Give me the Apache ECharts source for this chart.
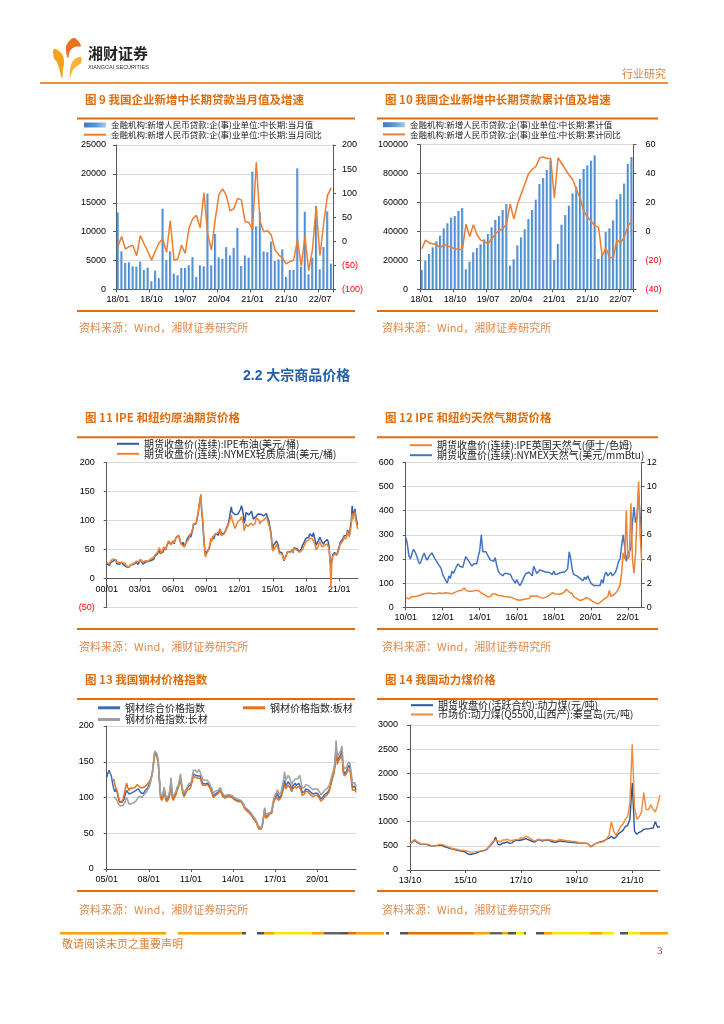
<!DOCTYPE html>
<html><head><meta charset="utf-8">
<script src="https://cdn.jsdelivr.net/npm/echarts/dist/echarts.min.js"></script>
<style>html,body{margin:0;padding:0;background:#fff}#c{width:724px;height:1024px}</style>
</head><body><div id="c"></div>
<script>
function months(y0,m0,y1,m1){const out=[];let y=y0,m=m0;while(y<y1||(y===y1&&m<=m1)){out.push(String(y%100).padStart(2,'0')+'/'+String(m).padStart(2,'0'));m++;if(m>12){m=1;y++;}}return out;}

// ---------- categories ----------
const cat9 = months(2018,1,2022,10);
const cat11 = months(2000,1,2022,9);
const cat12 = months(2010,1,2022,10);
const cat13 = months(2005,1,2022,10);
const cat14 = months(2013,10,2022,10);

// ---------- chart 9: monthly new mid/long-term corporate loans ----------
const loanMonthly = [13350,6590,4580,4700,4010,3950,4810,3380,3780,1430,3260,1950,
 13980,5100,6590,2750,2460,3720,3720,4180,5610,2180,4180,4010,
 16610,4180,9620,5560,5330,7330,5900,7220,10650,4070,5900,5500,
 20390,10940,13350,6590,6470,8300,4930,5210,6930,2180,3380,3380,
 20960,3900,13460,2630,5500,14430,3490,7330,13520,4470];
const loanMonthlyYoY = [-11,10,-16,-11,-8,-30,12,-5,-21,-39,-20,-3,
 5,-23,43,-39,-37,-8,-25,27,47,54,28,101,
 15,-18,44,97,109,95,63,68,89,86,41,39,
 25,164,40,20,22,13,-18,-28,-35,-47,-42,-39,
 4,-52,10,-61,-18,73,-30,37,95,111];

// ---------- chart 10: cumulative ----------
const loanCum = [13360,19820,24420,29030,33180,37100,42170,45620,49540,50690,54150,56220,
 13820,19120,25580,28570,31110,34560,38250,42860,47930,50690,54840,58990,
 16360,20740,30410,35940,41470,48620,54840,61980,72810,76960,82490,88940,
 20280,31340,44700,51380,57830,66360,70970,76270,83180,85710,88940,92630,
 20970,24190,39630,42170,47700,62210,65900,73040,86640,91470];
const loanCumYoY = [-12,-6,-8,-8.5,-9,-11.5,-9,-10,-11,-12,-12.5,-12.5,
 5,-3.5,4.6,-2.3,-6,-7,-8.5,-5,-1.6,0.7,1.8,5.3,
 19,8.5,19,26,33,40,43,45,51,51.5,50.5,50.5,
 23,51,47,43,39,36,29,23,14,10,7,4,
 3,-17,-11.5,-18,-18,-6,-7.6,-4,4,7];

// ---------- chart 11: crude oil ----------
const brent = [25.5,27.8,27.5,22.7,27.6,29.8,28.5,30.0,33.0,30.7,32.6,25.5,
 25.6,27.5,24.5,25.6,28.1,27.8,24.6,25.6,25.6,20.5,18.9,18.6,
 19.5,20.2,23.7,26.0,25.7,24.1,25.7,26.6,28.4,27.5,24.3,28.0,
 31.2,32.7,30.4,25.0,25.8,27.6,28.4,29.8,27.1,29.6,28.8,29.8,
 31.2,30.9,33.8,33.4,37.9,35.2,38.2,42.7,43.2,49.8,43.1,39.7,
 44.3,45.6,53.1,51.9,49.0,55.6,57.9,63.8,63.7,59.4,56.2,57.6,
 63.9,60.2,62.3,70.4,70.8,70.6,74.4,73.0,62.8,58.8,59.1,62.3,
 54.6,58.0,62.1,67.5,67.9,70.6,75.8,70.9,77.1,82.3,92.5,91.4,
 91.9,94.6,103.3,110.4,124.6,133.5,144.0,113.9,99.1,72.8,53.2,40.0,
 44.9,43.2,47.7,51.0,58.1,69.1,65.1,72.8,67.9,73.1,77.6,75.2,
 76.9,74.7,79.9,85.7,77.0,75.7,75.5,77.1,78.2,83.5,86.2,91.8,
 96.5,103.7,114.6,123.3,114.5,113.9,116.7,110.2,112.8,109.6,110.5,107.9,
 110.7,119.3,125.5,119.8,110.3,95.2,102.6,113.4,113.0,111.5,109.5,109.2,
 112.3,116.1,108.5,102.3,102.6,103.3,107.4,110.3,111.2,109.5,107.9,110.8,
 107.4,108.8,107.7,108.1,109.2,111.9,106.9,101.9,97.3,87.3,79.4,62.3,
 47.8,58.1,55.9,59.5,64.6,61.7,56.5,46.5,47.6,48.4,44.3,38.0,
 30.7,32.2,38.2,41.6,46.7,48.3,44.9,45.8,46.6,49.5,44.5,53.3,
 54.6,55.0,51.6,52.3,50.3,46.4,48.5,51.7,56.2,57.5,62.7,64.4,
 69.1,65.7,66.7,71.6,77.0,74.4,74.3,72.5,78.9,81.0,64.8,57.4,
 59.4,64.0,66.1,71.2,71.1,64.2,63.9,59.0,62.8,59.7,63.2,67.3,
 63.7,55.5,30.0,22.0,32.1,40.8,43.2,45.0,41.9,40.0,43.9,50.2,
 54.8,62.3,65.4,64.8,68.5,73.2,75.2,70.8,74.5,83.5,81.1,74.3,
 88.0,97.0,125.0,105.0,113.0,120.0,108.0,98.0,92.0];
const wti = [27.2,29.4,29.9,25.7,28.8,31.8,29.7,31.3,33.9,33.1,34.4,28.5,
 29.6,29.6,27.2,27.4,28.6,27.6,26.4,27.4,26.2,22.2,19.6,19.4,
 19.7,20.7,24.4,26.3,27.0,25.5,26.9,28.4,29.7,28.9,26.3,29.4,
 32.9,35.9,33.6,28.3,28.1,30.7,30.8,31.6,28.3,30.3,31.1,32.2,
 34.3,34.7,36.8,36.7,40.3,38.0,40.7,44.9,45.9,53.1,48.5,43.3,
 46.8,48.0,54.3,53.0,50.0,56.6,58.7,65.0,65.6,62.4,58.3,59.4,
 65.5,61.6,62.9,69.7,70.9,70.9,74.4,73.0,63.8,58.9,59.1,62.0,
 54.5,59.3,60.4,64.0,63.5,67.5,74.1,72.4,79.9,86.2,94.6,91.7,
 93.0,95.4,105.5,112.6,125.4,133.9,145.0,116.7,104.1,76.6,57.3,37.0,
 41.7,39.1,47.9,49.6,59.0,69.6,64.2,71.1,69.4,75.7,78.0,74.5,
 78.3,76.4,81.2,84.3,73.7,75.3,76.3,76.6,75.2,81.9,84.3,89.2,
 89.6,89.7,102.9,109.5,100.9,96.3,97.3,86.3,85.5,86.3,97.2,98.6,
 100.3,102.2,106.2,103.3,94.7,82.3,87.9,94.1,94.5,89.5,86.5,87.9,
 94.8,95.3,92.9,92.0,94.5,95.8,104.6,106.6,106.3,100.5,93.9,97.6,
 94.6,100.8,100.8,102.1,102.2,105.8,103.6,96.5,93.2,84.4,75.8,59.3,
 47.2,50.6,47.8,54.5,59.3,59.8,50.9,42.9,45.5,46.2,42.4,37.2,
 31.7,30.3,37.5,40.8,46.7,48.8,44.7,44.7,45.2,49.8,45.7,52.0,
 52.5,53.5,49.3,51.1,48.5,45.2,46.6,48.0,49.8,51.6,56.6,57.9,
 63.7,62.2,62.7,66.3,70.0,67.9,71.0,68.1,70.2,70.8,57.0,49.5,
 51.4,54.9,58.2,63.9,60.8,54.7,57.4,54.8,57.0,54.0,57.0,59.9,
 57.5,50.5,29.2,-15.0,28.6,38.3,40.7,42.3,39.6,39.4,41.4,47.0,
 52.0,59.0,62.4,61.7,65.2,71.4,72.5,67.7,71.6,81.5,79.2,71.7,
 83.0,92.0,112.0,102.0,110.0,115.0,100.0,92.0,85.0];

// ---------- chart 12: natural gas ----------
const nbpGas = [40,35,35,40,44,46,45,45,47,48,52,58,
 56,57,58,57,58,58,56,54,57,58,59,58,
 57,60,60,58,58,55,56,58,62,64,68,67,
 69,73,80,70,66,66,65,66,68,70,71,69,
 65,60,56,52,48,44,40,45,55,53,55,53,
 49,51,48,47,45,45,44,42,42,40,38,34,
 31,28,29,30,32,36,34,33,36,48,50,46,
 50,47,40,40,40,38,39,42,46,49,56,60,
 52,55,62,54,58,56,58,64,75,68,63,60,
 56,43,38,37,33,28,31,32,35,40,43,35,
 30,26,24,18,13,15,18,25,30,36,36,44,
 70,45,48,52,60,65,70,93,145,225,200,400,
 200,210,430,200,140,220,380,520,300,190];
const nymexGas = [5.8,5.3,4.3,4.0,4.1,4.8,4.6,4.3,3.9,3.6,3.8,4.2,
 4.5,4.1,3.9,4.2,4.3,4.5,4.4,4.0,3.9,3.6,3.4,3.2,
 2.7,2.6,2.2,2.0,2.6,2.4,3.0,2.8,2.8,3.4,3.6,3.4,
 3.3,3.3,3.8,4.2,4.1,3.8,3.6,3.4,3.6,3.7,3.6,4.2,
 4.7,6.0,4.6,4.6,4.6,4.6,4.1,3.9,3.9,3.8,4.1,3.5,
 3.0,2.8,2.8,2.6,2.8,2.8,2.8,2.8,2.7,2.4,2.2,2.0,
 2.3,2.0,1.8,2.0,2.0,2.6,2.8,2.8,2.9,3.0,2.6,3.4,
 3.3,2.8,2.9,3.1,3.2,3.0,2.9,2.9,3.0,2.9,3.0,2.7,
 3.0,2.7,2.7,2.8,2.8,2.9,2.8,2.9,2.9,3.2,4.6,4.0,
 3.1,2.7,2.8,2.6,2.6,2.4,2.3,2.2,2.5,2.3,2.6,2.3,
 2.0,1.9,1.8,1.7,1.8,1.7,1.8,2.3,2.0,2.7,2.9,2.6,
 2.6,2.9,2.6,2.7,2.9,3.3,3.8,4.0,5.1,6.0,5.0,3.8,
 4.4,4.6,4.9,7.0,8.3,7.0,7.5,9.5,7.5,6.2];

// ---------- chart 13: steel price index ----------
const steelComp = [128,134,138,137,130,120,113,108,112,107,100,95,
 93,93,94,98,105,110,108,105,107,106,106,108,
 107,110,112,112,110,107,106,105,107,110,111,113,
 117,121,127,134,148,163,164,158,150,125,103,99,
 103,112,104,97,98,101,108,122,103,99,103,106,
 112,115,120,126,118,108,103,106,110,113,116,114,
 118,125,133,133,131,129,130,131,130,124,120,119,
 119,121,120,119,116,112,108,102,100,105,104,107,
 109,111,107,103,101,100,99,102,104,102,101,101,
 100,98,96,96,96,95,95,95,92,89,85,83,
 82,80,79,77,75,72,70,68,65,61,57,56,
 57,62,72,84,73,71,75,78,76,79,90,97,
 98,103,106,99,99,103,109,116,124,116,118,122,
 120,117,112,116,118,120,117,119,120,122,114,107,
 106,108,112,112,111,109,108,106,105,104,106,107,
 106,104,101,98,100,101,104,106,106,107,110,112,
 123,124,135,145,172,150,155,156,160,167,140,133,
 134,137,142,145,140,128,114,115,116,110];
const steelPlate = [null,null,null,null,null,null,126,118,118,108,99,93,
 92,94,98,105,113,120,114,110,113,112,113,115,
 114,116,118,118,115,113,113,112,115,117,117,118,
 121,124,128,134,147,162,163,157,149,124,100,96,
 99,108,100,94,95,98,104,118,100,96,100,103,
 109,113,118,124,116,106,101,104,108,111,113,112,
 116,122,130,130,128,126,127,128,127,121,117,116,
 117,119,118,117,114,110,106,100,98,103,102,105,
 107,110,106,102,100,99,98,101,103,101,100,100,
 99,97,95,95,95,94,94,94,91,88,84,82,
 81,79,78,76,74,71,69,67,64,60,56,55,
 56,61,71,82,71,70,74,77,75,78,88,95,
 96,101,103,96,96,100,106,112,119,112,114,117,
 115,113,108,112,114,116,113,115,116,118,110,103,
 103,105,109,109,108,106,104,102,101,100,103,104,
 103,101,98,95,97,98,101,103,103,105,108,110,
 121,122,133,143,168,146,151,152,156,160,136,130,
 131,134,139,141,136,124,110,110,111,107];
const steelLong = [null,null,null,null,null,null,101,99,98,95,91,89,
 88,88,89,92,95,100,96,91,92,91,92,93,
 93,95,98,100,102,100,100,101,104,106,108,110,
 114,118,126,134,150,165,167,161,153,128,106,101,
 104,115,106,99,100,103,111,128,106,101,105,108,
 114,117,124,133,120,110,106,108,112,115,119,117,
 121,128,138,139,138,135,136,139,137,130,125,124,
 124,125,124,122,119,115,112,106,104,109,108,110,
 112,114,110,106,104,102,101,104,106,104,103,103,
 102,100,98,98,97,97,97,96,94,91,87,85,
 84,82,81,79,77,74,72,70,67,63,59,57,
 58,63,74,86,76,74,78,80,79,82,93,100,
 102,107,111,104,104,108,115,124,136,124,126,131,
 128,124,118,122,124,126,124,126,128,131,122,113,
 112,114,118,118,117,115,114,112,111,110,112,113,
 112,110,107,104,106,107,110,112,112,113,116,118,
 128,128,140,150,180,156,160,162,166,172,147,140,
 141,142,147,150,146,134,120,120,121,115];

// ---------- chart 14: thermal coal ----------
const coalFut = [540,580,610,
 575,545,530,530,530,515,500,495,505,510,515,505,
 480,470,450,440,430,410,400,390,385,370,330,320,
 330,340,360,380,390,400,420,470,520,580,680,530,
 520,560,560,580,550,560,600,620,610,620,630,650,
 630,610,590,580,620,630,600,610,620,620,590,580,
 570,590,600,590,590,580,580,570,570,560,560,560,
 550,550,540,480,510,540,560,580,590,610,640,660,
 700,650,680,750,780,820,900,920,1050,1800,800,740,
 780,800,840,850,850,860,870,1000,880,900];
const coalMkt = [540,590,630,
 590,560,535,535,540,530,510,500,495,520,530,525,
 505,490,470,450,440,430,420,410,405,400,385,375,
 370,375,385,390,400,410,430,480,540,600,620,600,
 580,620,620,640,610,610,620,630,640,670,650,700,
 680,650,620,600,630,640,620,620,630,630,620,610,
 600,620,630,620,610,600,600,590,590,580,560,560,
 560,560,540,490,500,540,560,570,580,600,650,720,
 1000,800,720,800,900,950,1050,1100,1400,2600,1300,1050,
 1100,1200,1600,1250,1250,1350,1250,1200,1350,1550];

// ---------- names ----------
const N9a='金融机构:新增人民币贷款:企(事)业单位:中长期:当月值';
const N9b='金融机构:新增人民币贷款:企(事)业单位:中长期:当月同比';
const N10a='金融机构:新增人民币贷款:企(事)业单位:中长期:累计值';
const N10b='金融机构:新增人民币贷款:企(事)业单位:中长期:累计同比';
const N11a='期货收盘价(连续):IPE布油(美元/桶)';
const N11b='期货收盘价(连续):NYMEX轻质原油(美元/桶)';
const N12a='期货收盘价(连续):IPE英国天然气(便士/色姆)';
const N12b='期货收盘价(连续):NYMEX天然气(美元/mmBtu)';
const N13a='钢材综合价格指数', N13b='钢材价格指数:板材', N13c='钢材价格指数:长材';
const N14a='期货收盘价(活跃合约):动力煤(元/吨)';
const N14b='市场价:动力煤(Q5500,山西产):秦皇岛(元/吨)';

const FONT="'Liberation Sans','Noto Sans CJK SC',sans-serif";
const CJK="'Noto Sans CJK SC',sans-serif";
const AX='#595959';
const ORANGE_T='#E36C0A';

function catAxis(grid,data,interval,extra){
  return Object.assign({type:'category',gridIndex:grid,data,boundaryGap:false,position:'bottom',
    axisLine:{show:true,onZero:false,lineStyle:{color:AX,width:1}},
    axisTick:{show:true,interval,length:3,lineStyle:{color:AX}},
    axisLabel:{interval,margin:6,fontSize:9,color:'#000',fontFamily:FONT},
    splitLine:{show:false}},extra||{});
}
function vAxis(grid,min,max,interval,pos,margin,split){
  return {type:'value',gridIndex:grid,min,max,interval,position:pos,
    axisLine:{show:true,lineStyle:{color:AX,width:1}},
    axisTick:{show:true,length:3,lineStyle:{color:AX}},
    axisLabel:{margin,fontSize:9,color:'#000',fontFamily:FONT,
      formatter:v=>v<0?'{r|('+(-v)+')}':String(v),
      rich:{r:{color:'#FF0000',fontSize:9,fontFamily:FONT}}},
    splitLine:{show:split,lineStyle:{color:'#D9D9D9',width:1}}};
}
function leg(name,left,cy,h,fs){
  fs=fs||10;
  return {data:[{name,icon:'rect'}],left,top:cy-Math.round(fs*0.55),itemWidth:22,itemHeight:h,padding:0,selectedMode:false,
    textStyle:{fontSize:fs,lineHeight:Math.round(fs*1.1),color:'#222',fontFamily:CJK}};
}
function line(name,x,y,data,color,w){
  return {name,type:'line',xAxisIndex:x,yAxisIndex:y,data,symbol:'none',showSymbol:false,color,
    itemStyle:{color},lineStyle:{color,width:w||1.3},animation:false};
}
const barGrad={type:'linear',x:0,y:0,x2:1,y2:0,colorStops:[{offset:0,color:'#3B7AC6'},{offset:0.55,color:'#5B9BD5'},{offset:1,color:'#A9CAEC'}]};

// ---------- decorations ----------
const el=[];
function txt(x,y,text,font,fill,align){el.push({type:'text',x,y,silent:true,style:{text,font,fill,align:align||'left',verticalAlign:'middle',textAlign:align||'left',textVerticalAlign:'middle'}});}
function hl(x1,x2,y,color,w){el.push({type:'line',silent:true,shape:{x1,y1:y,x2,y2:y},style:{stroke:color,lineWidth:w}});}
function rc(x,y,w,h,fill){el.push({type:'rect',silent:true,shape:{x,y,width:w,height:h},style:{fill}});}
function poly(points,fill){el.push({type:'polygon',silent:true,shape:{points,smooth:0.4},style:{fill}});}

// header logo
poly([[74,38],[67,44],[66,51],[68,58],[70,51],[75,47],[81,46]],'#E8731E');
poly([[54,49],[61,53],[64,60],[63,70],[62,78],[59,68],[57,62],[54,58]],'#F6A11E');
poly([[81,57],[75,59],[71,65],[70,78],[73,70],[77,66],[81,63]],'#F9B233');
txt(88,53,'湘财证券',"bold 15px "+CJK,'#222');
txt(88,67,'XIANGCAI SECURITIES',"5.5px 'Liberation Sans'",'#333');
txt(622,74,'行业研究',"11px "+CJK,'#D9823B');
hl(40,668,83,'#E46C0A',1.6);

// titles
const TF="bold 11.5px "+CJK;
txt(85,100,'图 9 我国企业新增中长期贷款当月值及增速',TF,ORANGE_T);
txt(385,100,'图 10 我国企业新增中长期贷款累计值及增速',TF,ORANGE_T);
txt(85,418,'图 11 IPE 和纽约原油期货价格',TF,ORANGE_T);
txt(385,418,'图 12 IPE 和纽约天然气期货价格',TF,ORANGE_T);
txt(85,680,'图 13 我国钢材价格指数',TF,ORANGE_T);
txt(385,680,'图 14 我国动力煤价格',TF,ORANGE_T);
// rules
[118.5,311,437.3,629,699,891].forEach(y=>{hl(77,355,y,'#E46C0A',2);hl(377,658,y,'#E46C0A',2);});
// sources
const SF="11px "+CJK;
[328,647,910].forEach(y=>{txt(79,y,'资料来源：Wind，湘财证券研究所',SF,'#E08A4B');txt(382,y,'资料来源：Wind，湘财证券研究所',SF,'#E08A4B');});
// section
txt(243,376,'2.2 大宗商品价格',"bold 14px "+FONT,'#1F5FAD');
// footer bar
[[60,166,'#F7A600'],[178,242,'#F7A600'],[242,246,'#555'],[257,264,'#555'],[264,274,'#F7A600'],[274,312,'#FFE600'],[312,324,'#F7A600'],[324,340,'#666'],[340,348,'#555'],[348,356,'#E07000'],[356,384,'#F7A600'],[386,389,'#555'],[400,408,'#555'],[408,474,'#E07000'],[474,490,'#F7A600'],[490,502,'#666'],[502,508,'#F7A600'],[508,516,'#555'],[516,524,'#FFE600'],[524,526,'#2A8A2A'],[536,544,'#555'],[544,552,'#F7A600'],[552,590,'#FFE600'],[590,602,'#F7A600'],[602,614,'#FFE600'],[620,628,'#555'],[628,640,'#FFE600'],[640,668,'#F7A600']].forEach(s=>rc(s[0],932,s[1]-s[0],2.5,s[2]));
txt(62,944,'敬请阅读末页之重要声明',"11px "+CJK,'#D9823B');
txt(657,951,'3',"11px 'Liberation Serif'",'#B03060');

const grid=[
 {left:116,top:145,width:217,height:144.5},
 {left:420,top:144.7,width:213.5,height:144.6},
 {left:106.7,top:462.3,width:251,height:145.4},
 {left:405.7,top:462.3,width:236,height:145},
 {left:106.7,top:726,width:249.3,height:143},
 {left:410,top:725,width:250,height:145}
].map(g=>Object.assign(g,{outerBoundsMode:'none',containLabel:false}));

const xAxis=[
 catAxis(0,cat9,8,{boundaryGap:true}),
 catAxis(1,cat9,8,{boundaryGap:true}),
 catAxis(2,cat11,35,{offset:-29.1}),
 catAxis(3,cat12,23),
 catAxis(4,cat13,35),
 catAxis(5,cat14,23)
];
const yAxis=[
 vAxis(0,0,25000,5000,'left',10,true),
 vAxis(0,-100,200,50,'right',9,false),
 vAxis(1,0,100000,20000,'left',12,true),
 vAxis(1,-40,60,20,'right',12,false),
 vAxis(2,-50,200,50,'left',12,true),
 vAxis(3,0,600,100,'left',12,true),
 vAxis(3,0,12,2,'right',5,false),
 vAxis(4,0,200,50,'left',13,true),
 vAxis(5,0,3000,500,'left',12,true)
];
const series=[
 {name:N9a,type:'bar',xAxisIndex:0,yAxisIndex:0,data:loanMonthly,barWidth:'62%',color:'#5B9BD5',itemStyle:{color:barGrad}},
 line(N9b,0,1,loanMonthlyYoY,'#ED7D31',1.5),
 {name:N10a,type:'bar',xAxisIndex:1,yAxisIndex:2,data:loanCum,barWidth:'64%',color:'#5B9BD5',itemStyle:{color:barGrad}},
 line(N10b,1,3,loanCumYoY,'#ED7D31',1.5),
 line(N11a,2,4,brent,'#2F5DA8',1.5),
 line(N11b,2,4,wti,'#F08232',1.5),
 line(N12b,3,6,nymexGas,'#4472C4',1.5),
 line(N12a,3,5,nbpGas,'#F08232',1.5),
 line(N13a,4,7,steelComp,'#3E6DB5',1.5),
 line(N13b,4,7,steelPlate,'#E2711D',1.5),
 line(N13c,4,7,steelLong,'#A0A0A0',1.5),
 line(N14a,5,8,coalFut,'#2F5597',1.4),
 line(N14b,5,8,coalMkt,'#F28A3A',1.4)
];
const legend=[
 leg(N9a,84,125.5,5,8.5), leg(N9b,84,135.2,2,8.5),
 leg(N10a,383,125.2,5,8.5), leg(N10b,383,134.9,2,8.5),
 leg(N11a,117,444.3,2), leg(N11b,117,454.3,2),
 leg(N12a,410,445.7,2), leg(N12b,410,455.7,2),
 leg(N13a,98,708.3,3), leg(N13b,243,708.3,3), leg(N13c,98,720,3),
 leg(N14a,411,705.7,2), leg(N14b,411,715,2)
];

const chart=echarts.init(document.getElementById('c'),null,{renderer:'canvas'});
chart.setOption({animation:false,backgroundColor:'#fff',grid,xAxis,yAxis,series,legend,graphic:{elements:el}});
</script></body></html>
